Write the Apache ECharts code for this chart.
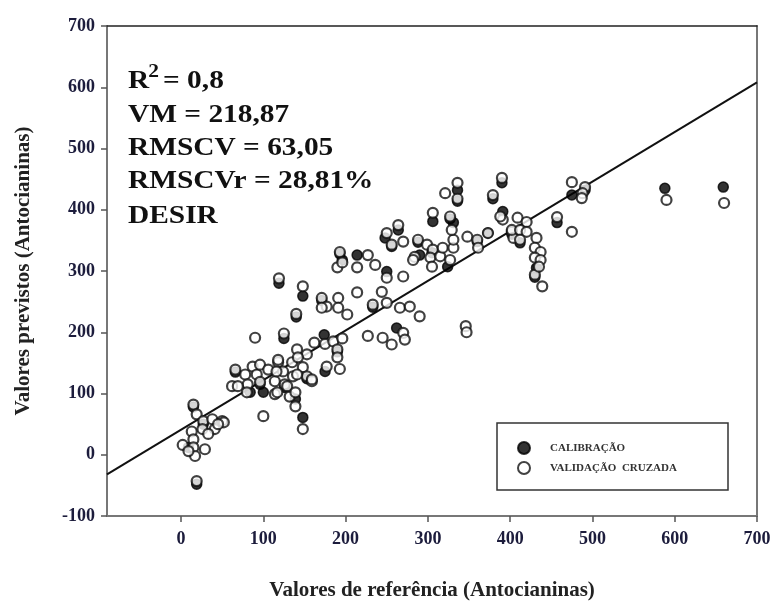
<!DOCTYPE html>
<html>
<head>
<meta charset="utf-8">
<script src="https://cdn.jsdelivr.net/npm/echarts@6/dist/echarts.min.js"></script>
<style>html,body{margin:0;padding:0;background:#fff}#c{width:777px;height:606px}</style>
</head>
<body>
<div id="c"></div>
<script>
// ---- data ----
var xTicks = [0, 100, 200, 300, 400, 500, 600, 700];
var yTicks = [-100, 0, 100, 200, 300, 400, 500, 600, 700];

// Validação cruzada (open circles): [referência, previsto]
var valX = [15,19,13,27,38,50,41,26,33,15,15,29,17,19,2,9,52,45,
  66,62,78,87,81,92,96,106,114,114,118,124,126,135,136,132,139,148,153,159,148,100,69,80,96,117,129,139,141,116,141,153,118,142,162,175,185,190,190,177,193,159,90,125,140,119,148,
  193,190,196,214,171,177,171,191,191,202,214,196,
  227,236,250,270,244,250,233,266,278,290,227,245,256,270,272,264,250,256,270,288,299,306,284,282,303,305,315,327,318,331,331,329,327,306,321,336,336,348,360,361,373,379,390,391,388,402,404,346,347,
  409,420,402,412,420,412,432,430,437,430,437,430,439,435,475,491,488,487,457,475,
  590,660];
var valY = [82,66,38,55,58,55,42,42,34,25,12,9,-2,-43,16,6,53,50,
  139,112,131,144,115,131,147,139,120,99,151,136,115,151,128,95,79,143,128,120,42,63,112,102,119,102,112,102,131,136,172,164,155,159,183,181,185,172,159,144,140,123,191,198,230,288,275,
  331,306,314,306,256,242,240,256,240,229,265,190,
  326,310,289,291,266,248,245,240,242,226,194,191,180,199,188,375,362,343,348,351,343,335,323,318,322,307,324,318,338,338,351,367,389,395,427,444,418,356,351,338,362,424,452,384,389,364,354,210,200,
  387,380,367,367,364,351,354,338,331,322,318,294,275,307,445,437,427,419,388,364,
  416,411];

// Calibração (filled circles): [referência, previsto]
var calX = [19,9,84,100,139,148,119,148,140,125,174,175,214,196,250,262,248,264,290,306,331,324,336,379,390,391,373,432,475,457,588,659,
  15,27,66,96,126,153,190,193,171,233,256,288,305,327,336,360,402,430,491,412];
var calY = [-48,12,102,102,91,61,280,259,225,190,196,136,326,318,299,207,354,367,326,381,379,307,432,418,444,397,362,305,424,379,435,437,
  78,50,135,115,110,124,168,328,252,241,340,347,330,385,414,348,360,290,432,346];

// Linha de regressão
var fitX = [-90, 700];
var fitY = [-32, 608];

var statLines = ['VM = 218,87', 'RMSCV = 63,05', 'RMSCVr = 28,81%', 'DESIR'];

function pairs(xs, ys) { var o = []; for (var i = 0; i < xs.length; i++) o.push([xs[i], ys[i]]); return o; }

var SERIF = '"Liberation Serif", "Times New Roman", serif';
var chart = echarts.init(document.getElementById('c'), null, {renderer: 'canvas'});

var statEls = [
  {type: 'text', x: 0, y: 81, style: {text: 'R', font: 'bold 26px ' + SERIF, fill: '#111', verticalAlign: 'middle'}},
  {type: 'text', x: 18, y: 72, style: {text: '2', font: 'bold 19px ' + SERIF, fill: '#111', verticalAlign: 'middle'}},
  {type: 'text', x: 31, y: 81, style: {text: '= 0,8', font: 'bold 26px ' + SERIF, fill: '#111', verticalAlign: 'middle'}}
];
var statY = [115, 148, 181, 216];
for (var i = 0; i < statLines.length; i++) {
  statEls.push({type: 'text', x: 0, y: statY[i], style: {text: statLines[i], font: 'bold 26px ' + SERIF, fill: '#111', verticalAlign: 'middle'}});
}

var option = {
  animation: false,
  backgroundColor: '#fff',
  grid: {left: 107, right: 20, top: 26, bottom: 89, containLabel: false},
  xAxis: [{
    type: 'value', min: -90, max: 700, position: 'bottom',
    axisLine: {onZero: false, lineStyle: {color: '#777', width: 2}},
    axisTick: {customValues: xTicks, length: 6, lineStyle: {color: '#555', width: 1.5}},
    axisLabel: {customValues: xTicks, fontFamily: SERIF, fontWeight: 'bold', fontSize: 18, color: '#1c1c3c', margin: 14},
    splitLine: {show: false},
    name: 'Valores de referência (Antocianinas)', nameLocation: 'middle', nameGap: 64,
    nameTextStyle: {fontFamily: SERIF, fontWeight: 'bold', fontSize: 21, color: '#222'}
  }, {
    type: 'value', min: -90, max: 700, position: 'top',
    axisLine: {onZero: false, lineStyle: {color: '#222', width: 1.5}},
    axisTick: {show: false}, axisLabel: {show: false}, splitLine: {show: false}
  }],
  yAxis: [{
    type: 'value', min: -100, max: 700, interval: 100, position: 'left',
    axisLine: {show: true, onZero: false, lineStyle: {color: '#777', width: 2}},
    axisTick: {show: true, length: 6, lineStyle: {color: '#555', width: 1.5}},
    axisLabel: {fontFamily: SERIF, fontWeight: 'bold', fontSize: 18, color: '#1c1c3c', margin: 12},
    splitLine: {show: false},
    name: 'Valores previstos (Antocianinas)', nameLocation: 'middle', nameGap: 73, nameRotate: 90,
    nameTextStyle: {fontFamily: SERIF, fontWeight: 'bold', fontSize: 21, color: '#222'}
  }, {
    type: 'value', min: -100, max: 700, interval: 100, position: 'right',
    axisLine: {show: true, onZero: false, lineStyle: {color: '#777', width: 2}},
    axisTick: {show: false}, axisLabel: {show: false}, splitLine: {show: false}
  }],
  legend: {
    orient: 'vertical', left: 517, top: 441, padding: 0, itemWidth: 12, itemHeight: 12, itemGap: 6,
    icon: 'circle',
    textStyle: {fontFamily: SERIF, fontWeight: 'bold', fontSize: 11, color: '#333', padding: [0, 0, 0, 15]},
    data: ['CALIBRAÇÃO', 'VALIDAÇÃO  CRUZADA']
  },
  graphic: [
    {type: 'rect', shape: {x: 497, y: 423, width: 231, height: 67}, style: {fill: 'none', stroke: '#333', lineWidth: 1.5}, z: 10},
    {type: 'group', x: 128, y: 0, scaleX: 1.13, children: statEls, z: 10}
  ],
  series: [
    {
      type: 'line', data: pairs(fitX, fitY), showSymbol: false, symbol: 'none',
      lineStyle: {color: '#111', width: 2}, z: 1, silent: true
    },
    {
      name: 'CALIBRAÇÃO', type: 'scatter', data: pairs(calX, calY), symbol: 'circle', symbolSize: 10,
      itemStyle: {color: '#000', borderColor: '#000', borderWidth: 1.5}, z: 2
    },
    {
      name: 'VALIDAÇÃO  CRUZADA', type: 'scatter', data: pairs(valX, valY), symbol: 'circle', symbolSize: 10,
      itemStyle: {color: '#fff', borderColor: '#111', borderWidth: 2.2}, z: 3
    }
  ]
};
chart.setOption(option);
</script>
</body>
</html>
